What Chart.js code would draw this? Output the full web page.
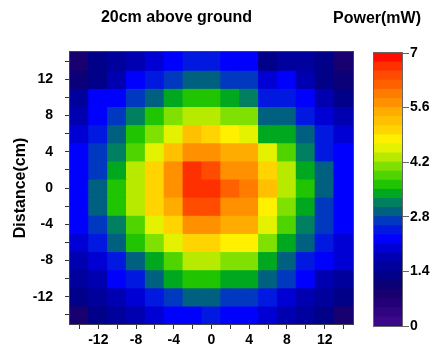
<!DOCTYPE html>
<html>
<head>
<meta charset="utf-8">
<script src="https://cdn.jsdelivr.net/npm/chart.js@4/dist/chart.umd.min.js"></script>
<style>
    html, body { margin: 0; padding: 0; background: #fff; }
    #wrap { position: relative; width: 442px; height: 351px; }
    #heat { position: absolute; left: 0; top: 0; }
    #bar { position: absolute; left: 323px; top: 0; }
</style>
</head>
<body>
<div id="wrap">
    <canvas id="heat" width="412" height="351"></canvas>
    <canvas id="bar" width="108" height="351"></canvas>
</div>
<script>
// ---------- Data ----------
const xCenters = [-14, -12, -10, -8, -6, -4, -2, 0, 2, 4, 6, 8, 10, 12, 14];
const yCenters = [14, 12, 10, 8, 6, 4, 2, 0, -2, -4, -6, -8, -10, -12, -14];
const cellSize = 2;
const axisLabels = [-12, -8, -4, 0, 4, 8, 12];

// power (mW), one row per y centre, top row first
const powerRows = [
    [0.8, 1.25, 1.5, 1.75, 2.0, 2.2, 2.45, 2.45, 2.2, 2.2, 1.4, 1.6, 1.5, 1.3, 0.9],
    [1.0, 1.4, 1.75, 2.2, 2.45, 2.7, 2.9, 2.9, 2.7, 2.7, 2.0, 2.2, 1.75, 1.4, 1.05],
    [1.5, 2.15, 2.2, 2.7, 2.9, 3.4, 3.6, 3.6, 3.4, 3.15, 2.45, 2.45, 2.2, 1.75, 1.4],
    [1.75, 2.2, 2.7, 3.15, 3.6, 4.1, 4.3, 4.3, 4.1, 4.1, 2.9, 2.9, 2.45, 2.0, 1.75],
    [2.0, 2.45, 2.9, 3.6, 4.1, 4.55, 5.3, 5.0, 4.8, 4.55, 3.4, 3.4, 2.9, 2.45, 2.0],
    [2.2, 2.7, 3.15, 3.85, 4.55, 5.25, 5.8, 5.8, 5.5, 5.5, 4.55, 3.85, 3.15, 2.45, 2.2],
    [2.2, 2.7, 3.4, 4.3, 5.1, 5.8, 6.6, 6.4, 5.8, 5.8, 5.1, 4.3, 3.4, 2.9, 2.2],
    [2.2, 2.9, 3.6, 4.3, 5.1, 5.8, 6.6, 6.6, 6.2, 5.95, 5.25, 4.3, 3.6, 2.9, 2.2],
    [2.2, 2.9, 3.6, 4.3, 5.1, 5.5, 6.4, 6.4, 5.8, 5.8, 4.8, 4.1, 3.4, 2.7, 2.2],
    [2.2, 2.7, 3.15, 3.85, 4.55, 5.1, 5.8, 5.8, 5.4, 5.4, 4.55, 3.85, 3.15, 2.7, 2.2],
    [2.0, 2.45, 2.9, 3.6, 4.1, 4.55, 5.0, 5.0, 4.8, 4.8, 4.1, 3.4, 2.9, 2.45, 2.0],
    [1.75, 2.0, 2.45, 2.9, 3.4, 3.85, 4.3, 4.3, 4.1, 4.1, 3.4, 2.9, 2.45, 2.2, 1.9],
    [1.5, 1.75, 2.2, 2.45, 2.9, 3.4, 3.6, 3.6, 3.4, 3.4, 2.9, 2.7, 2.2, 1.75, 1.5],
    [1.3, 1.5, 1.75, 2.0, 2.45, 2.7, 2.9, 2.9, 2.7, 2.7, 2.45, 2.0, 1.75, 1.5, 1.3],
    [0.8, 1.3, 1.5, 1.75, 2.0, 2.1, 2.2, 2.45, 2.2, 2.1, 2.0, 1.75, 1.5, 1.4, 0.85]
];

// colour scale
const powerMin = 0;
const powerMax = 7;
const colorTicks = [0, 1.4, 2.8, 4.2, 5.6, 7];
const colorTickLabels = ['0', '1.4', '2.8', '4.2', '5.6', '7'];
// 30 bands, lowest first
const bandColors = [
    '#3a0888', '#2e0480', '#240078', '#180070', '#0c0078', '#000088',
    '#00009c', '#0000b0', '#0000d4', '#0000ff', '#0018e0', '#0038c0',
    '#006080', '#008060', '#00a820', '#20c400', '#50d400', '#80e000',
    '#b8ea00', '#e4f200', '#fff000', '#ffd400', '#ffc000', '#ffac00',
    '#ff9000', '#ff7c00', '#ff6000', '#ff4c00', '#ff3000', '#ff0c00'
];

Chart.defaults.font.family = "'Liberation Sans', Arial, sans-serif";
Chart.defaults.color = '#000';

const tickFont = { size: 14, weight: 'bold' };
const titleFont = { size: 16, weight: 'bold' };

function colorFor(v) {
    const k = Math.floor((v - powerMin) / (powerMax - powerMin) * bandColors.length);
    return bandColors[Math.max(0, Math.min(bandColors.length - 1, k))];
}

// ---------- Frame round the plot area ----------
const framePlugin = {
    id: 'frame',
    afterDatasetsDraw(chart, args, opts) {
        const { ctx, chartArea: a } = chart;
        ctx.save();
        ctx.strokeStyle = opts.color || '#444';
        ctx.lineWidth = 1;
        ctx.strokeRect(Math.round(a.left) - 0.5, Math.round(a.top) - 0.5,
            Math.round(a.right - a.left) + 1, Math.round(a.bottom - a.top) + 1);
        ctx.restore();
    }
};

// ---------- Heat map ----------
const heatDatasets = yCenters.map((yc, r) => ({
    data: xCenters.map(xc => ({ x: xc, y: [yc - cellSize / 2, yc + cellSize / 2] })),
    backgroundColor: powerRows[r].map(colorFor),
    borderWidth: 0,
    inflateAmount: 0.6,
    barPercentage: 1,
    categoryPercentage: 1,
    grouped: false
}));

new Chart(document.getElementById('heat'), {
    type: 'bar',
    data: { datasets: heatDatasets },
    options: {
        responsive: false,
        animation: false,
        layout: { padding: { left: 0, right: 59, top: 0, bottom: 0 } },
        plugins: {
            legend: { display: false },
            tooltip: { enabled: false },
            title: {
                display: true,
                text: '20cm above ground',
                font: titleFont,
                color: '#000',
                padding: { top: 8, bottom: 24.8 }
            },
            frame: { color: '#444' }
        },
        scales: {
            x: {
                type: 'linear',
                min: xCenters[0] - cellSize / 2,
                max: xCenters[xCenters.length - 1] + cellSize / 2,
                offset: false,
                afterBuildTicks: s => { s.ticks = xCenters.map(v => ({ value: v })); },
                afterFit: s => { s.height = 27; },
                ticks: {
                    autoSkip: false,
                    maxRotation: 0,
                    padding: 3,
                    font: tickFont,
                    callback: v => axisLabels.includes(v) ? String(v) : ''
                },
                grid: { drawOnChartArea: false, drawTicks: true, tickLength: 5, color: '#333', offset: false },
                border: { display: false }
            },
            y: {
                type: 'linear',
                min: yCenters[yCenters.length - 1] - cellSize / 2,
                max: yCenters[0] + cellSize / 2,
                beginAtZero: false,
                afterBuildTicks: s => { s.ticks = yCenters.map(v => ({ value: v })); },
                afterFit: s => { s.width = 70; },
                ticks: {
                    autoSkip: false,
                    padding: 12,
                    font: tickFont,
                    callback: v => axisLabels.includes(v) ? String(v) : ''
                },
                grid: { drawOnChartArea: false, drawTicks: true, tickLength: 5, color: '#333' },
                border: { display: false },
                title: {
                    display: true,
                    text: 'Distance(cm)',
                    font: titleFont,
                    color: '#000',
                    padding: { top: 11, bottom: 0 }
                }
            }
        }
    },
    plugins: [framePlugin]
});

// ---------- Colour bar ----------
const bandStep = (powerMax - powerMin) / bandColors.length;
const barDatasets = bandColors.map((col, k) => ({
    data: [[powerMin + k * bandStep, powerMin + (k + 1) * bandStep]],
    backgroundColor: col,
    borderWidth: 0,
    inflateAmount: 0.6,
    barPercentage: 1,
    categoryPercentage: 1,
    grouped: false
}));

new Chart(document.getElementById('bar'), {
    type: 'bar',
    data: { labels: [''], datasets: barDatasets },
    options: {
        responsive: false,
        animation: false,
        layout: { padding: { left: 0, right: 0, top: 1, bottom: 25 } },
        plugins: {
            legend: { display: false },
            tooltip: { enabled: false },
            title: {
                display: true,
                text: 'Power(mW)',
                font: titleFont,
                color: '#000',
                padding: { top: 8, bottom: 24.8 }
            },
            frame: { color: '#666' }
        },
        scales: {
            x: { display: false },
            pad: {
                type: 'linear',
                position: 'left',
                afterFit: s => { s.width = 51; },
                ticks: { display: false },
                grid: { display: false },
                border: { display: false }
            },
            y: {
                type: 'linear',
                position: 'right',
                min: powerMin,
                max: powerMax,
                afterBuildTicks: s => { s.ticks = colorTicks.map(v => ({ value: v })); },
                afterFit: s => { s.width = 29; },
                ticks: {
                    autoSkip: false,
                    padding: 1,
                    font: tickFont,
                    callback: (v, i) => colorTickLabels[i]
                },
                grid: { drawOnChartArea: false, drawTicks: true, tickLength: 7, color: '#666' },
                border: { display: false }
            }
        }
    },
    plugins: [framePlugin]
});
</script>
</body>
</html>
